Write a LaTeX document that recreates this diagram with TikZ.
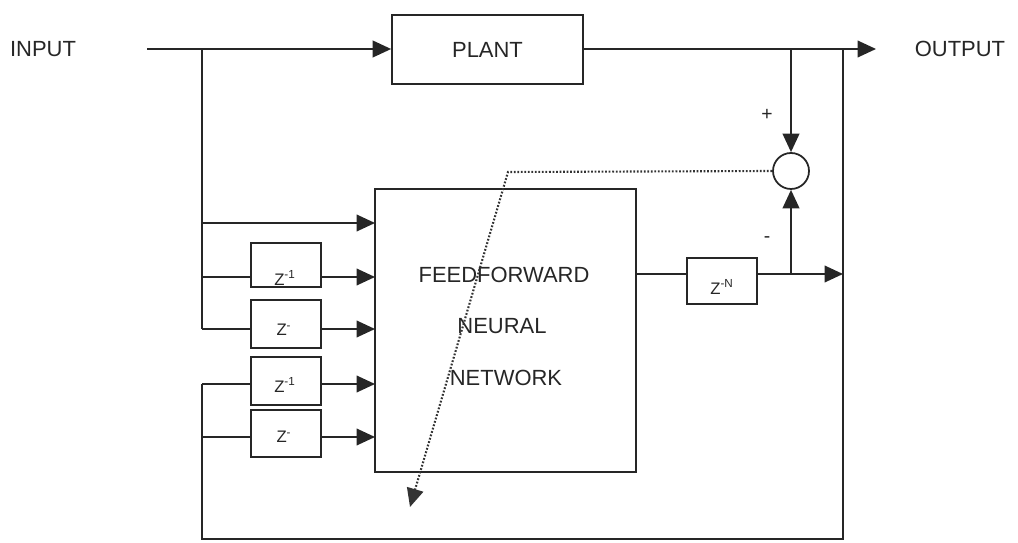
\documentclass[tikz,border=0pt]{standalone}
\usepackage{fontspec}
\setmainfont{Liberation Sans}
\usetikzlibrary{arrows.meta}
\begin{document}
\begin{tikzpicture}[x=0.02cm,y=-0.02cm,
  line/.style={line width=1pt,draw=black!85},
  arr/.style={line width=1pt,draw=black!85,-{Triangle[length=10.5pt,width=9.5pt]}},
  dotarr/.style={line width=1.2pt,draw=black!80,dash pattern=on 1pt off 1pt,-{Triangle[length=10.5pt,width=9.5pt]}},
  blk/.style={draw=black!85,line width=1pt,inner sep=0pt},
  lbl/.style={font=\fontsize{12.5}{14}\selectfont,inner sep=0pt,text=black!85},
  zlab/.style={font=\fontsize{9.5}{10}\selectfont,inner sep=0pt,text=black!85},
  sgn/.style={font=\fontsize{11}{12}\selectfont,inner sep=0pt,text=black!85}]
\useasboundingbox (0,0) rectangle (1018,543);
% texts
\node[lbl] (in) at (43,49) {INPUT};
\node[lbl] (out) at (960,49) {OUTPUT};
% blocks
\node[blk,minimum width=3.82cm,minimum height=1.38cm,lbl] (plant) at (487.5,49.5) {PLANT};
\node[blk,minimum width=5.22cm,minimum height=5.66cm] (nn) at (505.5,330.5) {};
\node[lbl] (nn1) at (504,275) {FEEDFORWARD};
\node[lbl] (nn2) at (502,326) {NEURAL};
\node[lbl] (nn3) at (506,378) {NETWORK};
\node[blk,minimum width=1.40cm,minimum height=0.88cm] (b1) at (286,265) {};
\node[blk,minimum width=1.40cm,minimum height=0.96cm] (b2) at (286,324) {};
\node[blk,minimum width=1.40cm,minimum height=0.96cm] (b3) at (286,381) {};
\node[blk,minimum width=1.40cm,minimum height=0.94cm] (b4) at (286,433.5) {};
\node[zlab] (t1) at (285,278) {Z\textsuperscript{-1}};
\node[zlab] (t2) at (284,330) {Z\textsuperscript{-}};
\node[zlab] (t3) at (285,385) {Z\textsuperscript{-1}};
\node[zlab] (t4) at (284,437) {Z\textsuperscript{-}};
\node[blk,minimum width=1.40cm,minimum height=0.92cm] (zn) at (722,281) {};
\node[zlab] (tn) at (722,287) {Z\textsuperscript{-N}};
\node[draw=black!85,line width=1pt,circle,minimum size=0.72cm,inner sep=0pt] (sum) at (791,171) {};
\node[sgn] (plus) at (767,115) {+};
\node[sgn] (minus) at (767,240) {-};
% coordinates
\coordinate (inS) at (147,49);
\coordinate (jU) at (202,49);
\coordinate (oE) at (876,49);
\coordinate (jA) at (791,49);
\coordinate (jB) at (843,49);
\coordinate (l0) at (202,223);
\coordinate (l1) at (202,277);
\coordinate (l2) at (202,329);
\coordinate (l3) at (202,384);
\coordinate (l4) at (202,437);
\coordinate (r0) at (375,223);
\coordinate (r1) at (375,277);
\coordinate (r2) at (375,329);
\coordinate (r3) at (375,384);
\coordinate (r4) at (375,437);
\coordinate (cBR) at (843,539);
\coordinate (cBL) at (202,539);
\coordinate (zl) at (636,274);
\coordinate (zj) at (791,274);
\coordinate (zr) at (843,274);
\coordinate (dc) at (508,172);
\coordinate (dt) at (410,507);
% connectors
\draw[arr] (inS) -- (inS -| plant.west);
\draw[arr] (plant.east |- oE) -- (oE);
\draw[arr] (jA) -- (sum.north);
\draw[line] (jB) -- (cBR) -- (cBL) -- (l3);
\draw[line] (jU) -- (l2);
\draw[arr] (l0) -- (r0);
\draw[line] (l1) -- (l1 -| b1.west);
\draw[arr] (l1 -| b1.east) -- (r1);
\draw[line] (l2) -- (l2 -| b2.west);
\draw[arr] (l2 -| b2.east) -- (r2);
\draw[line] (l3) -- (l3 -| b3.west);
\draw[arr] (l3 -| b3.east) -- (r3);
\draw[line] (l4) -- (l4 -| b4.west);
\draw[arr] (l4 -| b4.east) -- (r4);
\draw[line] (zl) -- (zl -| zn.west);
\draw[arr] (zl -| zn.east) -- (zr);
\draw[arr] (zj) -- (sum.south);
\draw[dotarr] (sum.west) -- (dc) -- (dt);
\end{tikzpicture}
\end{document}
